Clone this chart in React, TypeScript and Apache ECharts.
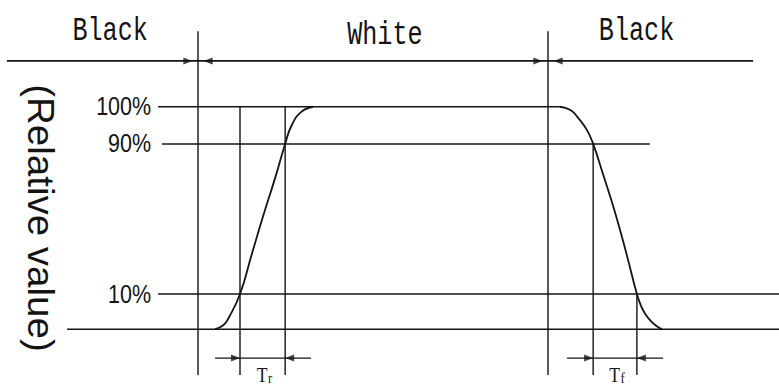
import React, { useEffect, useRef } from 'react';
import * as echarts from 'echarts';

// Axis extents (time units, relative-value units of the schematic)
const X_MIN = -56;
const X_MAX = 166;
const Y_MIN = -26;
const Y_MAX = 148;

// State labels above the state line
const STATE_LABELS = ['Black', 'White', 'Black'];
const STATE_LABEL_T = [-25.1, 53.4, 125.3];
const STATE_LABEL_V = [134.3, 132.3, 134.3];

// Relative value levels
const LEVEL_LABELS = ['100%', '90%', '10%'];
const LEVEL_VALUES = [100, 83.3, 15.8];
const BASELINE = 0;
const STATE_LINE = 120.6;
const DIM_LEVEL = -13;
const LINE_BOTTOM = -20.6;

// Horizontal guide lines
const H_LINE_FROM = [-54.6, -11.4, -10.3, -11.4, -37.4];
const H_LINE_TO = [158.6, 103.4, 129.1, 166, 166];
const H_LINE_LEVEL = [STATE_LINE, 100, 83.3, 15.8, BASELINE];

// Vertical guide lines (transitions and 10%/90% crossings)
const V_LINE_T = [0, 100, 12, 24.9, 112.9, 125.4];
const V_LINE_TOP = [134, 134, 100, 100, 83.3, 15.8];

// Response curves
const RISE_T = [4.9, 7.3, 8.7, 12.0, 15.3, 18.7, 22.0, 24.9, 26.8, 29.6, 32.9];
const RISE_V = [0, 1.9, 4.9, 15.8, 33.4, 51.3, 67.8, 83.3, 91.8, 97.8, 100];
const FALL_T = [103.4, 106.4, 108.7, 111.1, 112.9, 115.8, 119.1, 122.5, 125.4, 126.6, 127.9, 129.4, 131.0, 132.5];
const FALL_V = [100, 98.5, 94.8, 89.6, 83.3, 69.3, 52.8, 33.4, 15.8, 10.4, 6.6, 3.6, 1.4, 0];

// Dimension lines (Tr, Tf)
const DIM_FROM = [4.9, 105.4];
const DIM_TO = [32.3, 132.9];
const DIM_LABEL_MAIN = ['T', 'T'];
const DIM_LABEL_SUB = ['r', 'f'];
const DIM_LABEL_T = [18.45, 119.15];
const DIM_LABEL_V = -15.4;

// Arrow tips
const ARROW_RIGHT_T = [12, 112.9, -1.6, 98.4];
const ARROW_RIGHT_V = [DIM_LEVEL, DIM_LEVEL, STATE_LINE, STATE_LINE];
const ARROW_LEFT_T = [24.9, 125.4, 1.6, 101.6];
const ARROW_LEFT_V = [DIM_LEVEL, DIM_LEVEL, STATE_LINE, STATE_LINE];

const AXIS_NAME = '(Relative value)';
const AXIS_NAME_T = -45.1;
const AXIS_NAME_V = 50;

const INK = '#141414';

function seg(data: number[][], width = 1.5) {
  return {
    type: 'line',
    data,
    symbol: 'none',
    silent: true,
    clip: false,
    lineStyle: { color: INK, width },
  };
}

export default function App() {
  const ref = useRef<HTMLDivElement>(null);

  useEffect(() => {
    const chart = echarts.init(ref.current!, null, { renderer: 'svg' });
    const series: any[] = [];
    H_LINE_FROM.forEach((f, i) => {
      series.push(seg([[f, H_LINE_LEVEL[i]], [H_LINE_TO[i], H_LINE_LEVEL[i]]], i === 0 ? 1.8 : 1.5));
    });
    V_LINE_T.forEach((t, i) => {
      series.push(seg([[t, V_LINE_TOP[i]], [t, LINE_BOTTOM]], 1.4));
    });
    DIM_FROM.forEach((f, i) => {
      series.push(seg([[f, DIM_LEVEL], [DIM_TO[i], DIM_LEVEL]], 1.3));
    });
    series.push({
      ...seg(RISE_T.map((t, i) => [t, RISE_V[i]]), 1.8),
      smooth: 0.5,
    });
    series.push({
      ...seg(FALL_T.map((t, i) => [t, FALL_V[i]]), 1.8),
      smooth: 0.5,
    });
    series.push({
      type: 'scatter',
      silent: true,
      clip: false,
      symbol: 'path://M0,0L10,5L0,10Z',
      symbolSize: [9, 7],
      symbolOffset: [-4.5, 0],
      itemStyle: { color: INK },
      data: ARROW_RIGHT_T.map((t, i) => [t, ARROW_RIGHT_V[i]]),
    });
    series.push({
      type: 'scatter',
      silent: true,
      clip: false,
      symbol: 'path://M10,0L0,5L10,10Z',
      symbolSize: [9, 7],
      symbolOffset: [4.5, 0],
      itemStyle: { color: INK },
      data: ARROW_LEFT_T.map((t, i) => [t, ARROW_LEFT_V[i]]),
    });

    chart.setOption({
      animation: false,
      backgroundColor: '#ffffff',
      grid: { left: 2, right: 0, top: 0, bottom: 1 },
      xAxis: { type: 'value', min: X_MIN, max: X_MAX, show: false },
      yAxis: { type: 'value', min: Y_MIN, max: Y_MAX, show: false },
      series,
    });

    const px = (t: number, v: number) =>
      chart.convertToPixel({ xAxisIndex: 0, yAxisIndex: 0 }, [t, v]) as number[];

    const graphic: any[] = [];
    STATE_LABELS.forEach((s, i) => {
      const [x, y] = px(STATE_LABEL_T[i], STATE_LABEL_V[i]);
      graphic.push({
        type: 'text',
        x,
        y,
        scaleX: 0.74,
        silent: true,
        style: {
          text: s,
          fontFamily: 'Liberation Mono, monospace',
          fontSize: 34,
          fill: INK,
          align: 'center',
          verticalAlign: 'middle',
        },
      });
    });
    LEVEL_LABELS.forEach((s, i) => {
      const [x, y] = px(-13.4, LEVEL_VALUES[i]);
      graphic.push({
        type: 'text',
        x,
        y,
        scaleX: 0.86,
        silent: true,
        style: {
          text: s,
          fontFamily: 'Liberation Sans, Arial, sans-serif',
          fontSize: 25,
          fill: INK,
          align: 'right',
          verticalAlign: 'middle',
        },
      });
    });
    {
      const [x, y] = px(AXIS_NAME_T, AXIS_NAME_V);
      graphic.push({
        type: 'text',
        x,
        y,
        rotation: -Math.PI / 2,
        scaleX: 1.07,
        silent: true,
        style: {
          text: AXIS_NAME,
          fontFamily: 'Liberation Sans, Arial, sans-serif',
          fontSize: 36,
          fill: INK,
          align: 'center',
          verticalAlign: 'middle',
        },
      });
    }
    DIM_LABEL_MAIN.forEach((s, i) => {
      const [x, y] = px(DIM_LABEL_T[i], DIM_LABEL_V);
      graphic.push({
        type: 'text',
        x: x + 5,
        y,
        scaleX: 0.8,
        silent: true,
        style: {
          text: s,
          fontFamily: 'Liberation Serif, serif',
          fontSize: 22,
          fill: INK,
          align: 'right',
          verticalAlign: 'top',
        },
      });
      graphic.push({
        type: 'text',
        x: x + 5.5,
        y: y + 8,
        scaleX: 0.9,
        silent: true,
        style: {
          text: DIM_LABEL_SUB[i],
          fontFamily: 'Liberation Serif, serif',
          fontSize: 14,
          fill: INK,
          align: 'left',
          verticalAlign: 'top',
        },
      });
    });

    chart.setOption({ graphic });

    return () => chart.dispose();
  }, []);

  return (
    <div
      ref={ref}
      style={{ position: 'absolute', left: 0, top: 0, width: 779, height: 388, background: '#fff' }}
    />
  );
}
